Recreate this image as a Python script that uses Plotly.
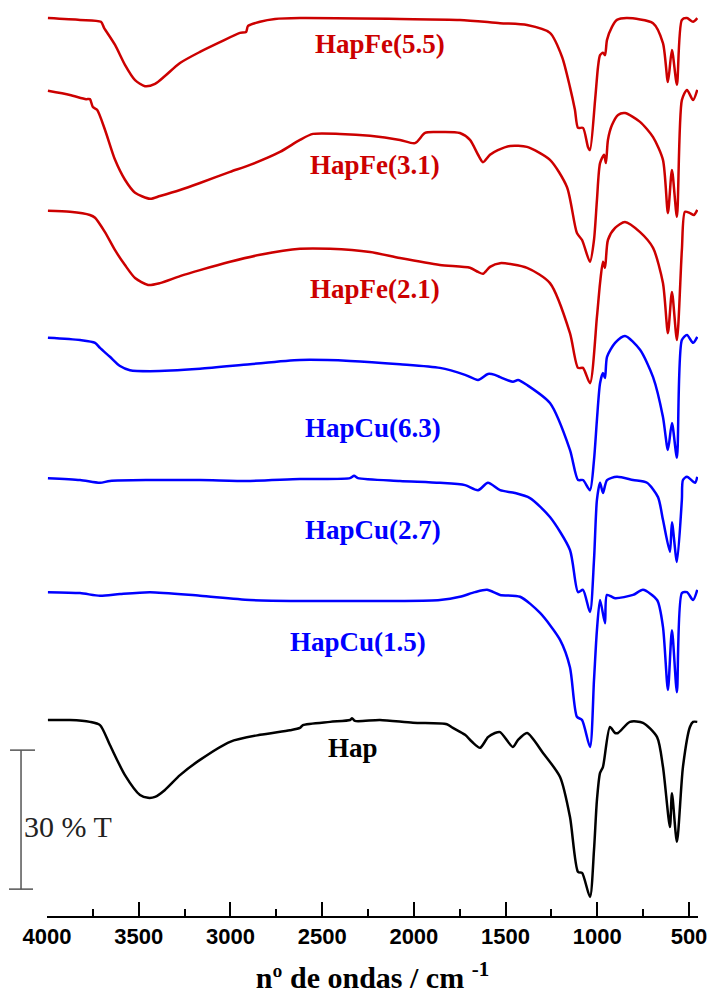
import plotly.graph_objects as go

# FTIR spectra (wavenumber in cm-1, transmittance in %T, already stacked with vertical offsets)
wn_fe55 = [3995, 3820, 3706, 3689, 3629, 3575, 3520, 3466, 3411, 3357, 3275, 3166, 3057, 2948, 2915,
           2904, 2839, 2757, 2621, 2076, 1749, 1530, 1383, 1258, 1192, 1149, 1122, 1105, 1078, 1051,
           1040, 1012, 996, 985, 969, 958, 947, 920, 893, 838, 696, 642, 615, 593, 566, 539, 511, 478, 455]
t_fe55 = [193.8, 193.4, 193.0, 191.7, 188.0, 183.7, 180.4, 179.1, 179.6, 181.3, 184.1, 186.5, 188.6, 190.6, 190.8,
          192.1, 193.0, 193.6, 193.8, 193.6, 193.4, 192.7, 192.3, 190.6, 185.4, 178.9, 174.0, 170.1, 170.1, 166.0,
          165.3, 176.1, 183.3, 185.8, 186.3, 185.8, 189.1, 191.9, 193.4, 193.8, 192.7, 188.4, 180.0, 186.9, 179.4,
          193.4, 193.8, 193.0, 193.8]

wn_fe31 = [3995, 3875, 3787, 3766, 3750, 3727, 3684, 3629, 3575, 3520, 3438, 3384, 3275, 3166, 3002, 2893,
           2730, 2621, 2550, 2403, 2239, 2076, 1994, 1939, 1885, 1749, 1694, 1650, 1623, 1585, 1542, 1476,
           1383, 1258, 1165, 1111, 1083, 1040, 1018, 1002, 985, 963, 953, 942, 920, 887, 849, 767, 696, 642,
           615, 593, 566, 539, 511, 478, 455]
t_fe31 = [178.1, 177.2, 176.3, 176.3, 174.6, 174.0, 169.7, 163.2, 158.9, 156.1, 154.8, 155.4, 156.7, 158.2,
          160.6, 162.1, 164.9, 167.5, 168.8, 168.8, 168.4, 167.5, 166.8, 169.0, 169.2, 169.0, 167.5, 164.3,
          162.7, 164.3, 165.3, 166.2, 166.0, 163.2, 157.3, 147.4, 145.9, 141.2, 145.9, 154.5, 162.5, 164.3,
          162.5, 167.5, 170.7, 172.9, 173.3, 171.4, 168.1, 163.2, 151.7, 161.0, 150.9, 176.1, 178.3, 176.1, 178.3]

wn_fe21 = [3995, 3875, 3766, 3738, 3684, 3629, 3575, 3520, 3449, 3384, 3275, 3166, 3002, 2839, 2621, 2457,
           2239, 2076, 1858, 1694, 1650, 1623, 1585, 1530, 1383, 1258, 1149, 1105, 1078, 1040, 1002, 985,
           969, 958, 942, 903, 849, 767, 696, 642, 615, 593, 566, 539, 522, 495, 473, 455]
t_fe21 = [152.2, 152.0, 151.3, 150.7, 147.6, 143.7, 140.5, 137.7, 136.2, 136.6, 138.1, 139.4, 141.2, 142.7,
          144.0, 144.0, 143.3, 142.0, 140.5, 139.9, 139.0, 138.6, 140.1, 140.9, 139.9, 136.6, 125.8, 118.3,
          118.3, 115.0, 129.3, 136.6, 141.2, 139.9, 145.9, 148.5, 149.8, 147.6, 144.2, 136.6, 125.8, 134.7,
          124.3, 143.7, 152.0, 151.7, 151.3, 152.4]

wn_cu63 = [3995, 3820, 3738, 3711, 3657, 3602, 3548, 3438, 3166, 2893, 2621, 2348, 2076, 1858, 1721, 1650,
           1596, 1558, 1530, 1460, 1432, 1383, 1258, 1149, 1105, 1078, 1040, 1018, 1002, 985, 969, 958, 947,
           903, 849, 767, 696, 642, 615, 593, 566, 539, 511, 478, 455]
t_cu63 = [124.8, 124.3, 123.7, 122.6, 120.7, 118.7, 117.8, 117.6, 118.1, 119.1, 120.0, 119.8, 119.1, 118.3,
          116.8, 115.7, 117.0, 116.8, 116.3, 115.3, 115.7, 114.6, 110.7, 100.6, 94.1, 94.1, 91.9, 98.4, 107.1,
          115.0, 117.2, 116.1, 120.7, 123.7, 125.2, 122.2, 116.3, 107.7, 100.6, 106.4, 98.9, 124.3, 125.4,
          123.7, 125.0]

wn_cu27 = [3995, 3820, 3711, 3657, 3438, 3166, 2893, 2621, 2348, 2326, 2305, 2076, 1858, 1721, 1650, 1596,
           1530, 1449, 1367, 1258, 1149, 1105, 1078, 1040, 1018, 1002, 985, 969, 947, 893, 805, 729, 669,
           642, 604, 593, 566, 539, 533, 511, 467, 455]
t_cu27 = [94.5, 94.1, 93.5, 93.9, 94.1, 94.1, 93.9, 94.3, 94.5, 95.0, 94.5, 93.9, 93.5, 93.0, 91.9, 93.5,
          91.9, 91.3, 90.2, 86.1, 79.0, 69.9, 70.4, 65.6, 76.8, 89.8, 93.5, 91.3, 94.1, 94.8, 94.1, 93.5,
          90.4, 85.5, 78.6, 85.0, 76.4, 89.8, 94.1, 94.8, 93.5, 94.8]

wn_cu15 = [3995, 3820, 3711, 3602, 3438, 3166, 2893, 2621, 2348, 2076, 1858, 1749, 1667, 1601, 1530, 1421,
           1312, 1203, 1149, 1111, 1083, 1040, 1018, 1002, 985, 958, 947, 903, 805, 751, 674, 642, 615, 593,
           566, 539, 511, 478, 455]
t_cu15 = [69.9, 69.7, 69.1, 69.5, 69.9, 69.1, 68.2, 68.0, 68.0, 68.0, 68.2, 68.9, 69.9, 70.4, 69.3, 68.9,
          65.4, 59.6, 53.7, 43.0, 42.3, 36.5, 50.9, 61.7, 68.2, 63.2, 69.3, 68.6, 69.3, 70.4, 68.2, 62.4,
          48.8, 61.7, 48.3, 69.7, 69.9, 68.2, 70.4]

wn_hap = [3995, 3875, 3766, 3711, 3657, 3575, 3493, 3449, 3411, 3357, 3275, 3166, 3002, 2839, 2676, 2621,
          2605, 2457, 2348, 2337, 2321, 2185, 2005, 1820, 1787, 1721, 1683, 1639, 1596, 1558, 1530, 1460,
          1432, 1383, 1296, 1203, 1149, 1105, 1083, 1040, 1018, 1002, 985, 969, 931, 903, 887, 822, 751,
          674, 642, 604, 593, 566, 533, 495, 478, 455]
t_hap = [42.3, 42.3, 41.9, 41.2, 36.9, 30.4, 26.1, 25.5, 25.7, 27.2, 30.4, 33.7, 37.6, 39.1, 40.1, 40.6,
         41.2, 41.9, 42.3, 42.7, 42.1, 42.3, 41.7, 41.4, 40.6, 39.1, 37.6, 36.3, 38.6, 39.5, 39.7, 36.5,
         38.0, 39.5, 35.2, 30.0, 21.4, 9.5, 9.3, 4.1, 14.2, 25.0, 30.9, 32.2, 40.8, 39.5, 39.5, 41.9, 41.7,
         38.6, 32.2, 19.2, 26.5, 16.0, 32.2, 40.8, 41.9, 41.9]

series = [
    ("HapFe(5.5)", wn_fe55, t_fe55, "#CC0000", 2185, 188.2),
    ("HapFe(3.1)", wn_fe31, t_fe31, "#CC0000", 2212, 162.1),
    ("HapFe(2.1)", wn_fe21, t_fe21, "#CC0000", 2212, 135.3),
    ("HapCu(6.3)", wn_cu63, t_cu63, "#0000FF", 2223, 105.3),
    ("HapCu(2.7)", wn_cu27, t_cu27, "#0000FF", 2223, 83.3),
    ("HapCu(1.5)", wn_cu15, t_cu15, "#0000FF", 2305, 59.1),
    ("Hap", wn_hap, t_hap, "#000000", 2332, 36.3),
]

fig = go.Figure()
annotations = []
for name, x, y, color, lx, ly in series:
    fig.add_trace(go.Scatter(
        x=x, y=y, mode="lines", name=name,
        line=dict(color=color, width=2.5, shape="spline", smoothing=0.7),
        showlegend=False,
    ))
    annotations.append(dict(
        x=lx, y=ly, xref="x", yref="y", text="<b>" + name + "</b>", showarrow=False,
        font=dict(family="Liberation Serif, Times New Roman, serif", size=27, color=color),
        xanchor="center", yanchor="middle",
    ))

# 30 %T scale bar drawn on the left of the plot area
bar_bottom = 5.8
bar_top = bar_bottom + 30
shapes = [
    dict(type="line", xref="paper", yref="y", x0=-0.0399, x1=-0.0399, y0=bar_bottom, y1=bar_top,
         line=dict(color="#555555", width=1.5)),
    dict(type="line", xref="paper", yref="y", x0=-0.0568, x1=-0.0184, y0=bar_top, y1=bar_top,
         line=dict(color="#555555", width=1.5)),
    dict(type="line", xref="paper", yref="y", x0=-0.0584, x1=-0.0215, y0=bar_bottom, y1=bar_bottom,
         line=dict(color="#555555", width=1.5)),
]
annotations.append(dict(
    x=0.032, y=19.4, xref="paper", yref="y", text="30 % T", showarrow=False,
    font=dict(family="Liberation Serif, Times New Roman, serif", size=30, color="#222222"),
    xanchor="center", yanchor="middle",
))

fig.update_layout(
    width=711, height=998,
    margin=dict(l=47, r=13, t=0, b=82),
    paper_bgcolor="white", plot_bgcolor="white",
    shapes=shapes, annotations=annotations,
    xaxis=dict(
        range=[4000, 451], showgrid=False, zeroline=False,
        showline=True, linecolor="black", linewidth=2,
        ticks="inside", ticklen=14, tickwidth=2, tickcolor="black",
        tick0=500, dtick=500,
        minor=dict(dtick=250, ticks="inside", ticklen=7, tickwidth=2, tickcolor="black"),
        tickfont=dict(family="Liberation Sans, Arial, sans-serif", size=22, color="black", weight="bold"),
        title=dict(
            text="nº de ondas / cm <sup>-1</sup>",
            font=dict(family="Liberation Serif, Times New Roman, serif", size=30, color="black", weight="bold"),
            standoff=19,
        ),
    ),
    yaxis=dict(range=[0, 197.7], visible=False),
)

fig.write_html("out.html")
